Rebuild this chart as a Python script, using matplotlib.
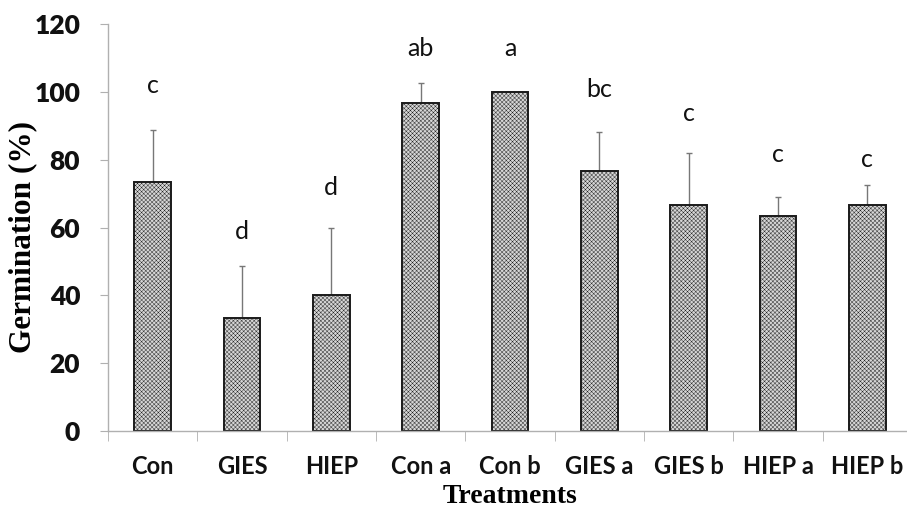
import matplotlib
matplotlib.use("Agg")
import matplotlib.pyplot as plt
import numpy as np

# germination per treatment (mean and upper SD)
treatments = ["Con", "GIES", "HIEP", "Con a", "Con b", "GIES a", "GIES b", "HIEP a", "HIEP b"]
germination = [73.3, 33.3, 40.0, 96.7, 100.0, 76.7, 66.7, 63.3, 66.7]
sd = [15.3, 15.3, 20.0, 5.8, 0.0, 11.5, 15.3, 5.8, 5.8]
letters = ["c", "d", "d", "ab", "a", "bc", "c", "c", "c"]
letter_y = [102, 58.7, 71.7, 112.7, 112.7, 100.6, 93.5, 81.4, 80.0]

plt.rcParams["hatch.linewidth"] = 0.3
plt.rcParams["hatch.color"] = "#a6a6a6"

fig = plt.figure(figsize=(9.07, 5.09), dpi=100)
ax = fig.add_axes([108 / 907, 78 / 509, 804 / 907, 407 / 509])

x = np.arange(len(treatments))
ax.bar(x, germination, width=0.41, color="#d6d6d6", edgecolor="#1a1a1a",
       linewidth=1.4, hatch="xxxxxxxx", zorder=2)
ax.errorbar(x, germination, yerr=[np.zeros(len(sd)), sd], fmt="none",
            ecolor="#777777", elinewidth=1.0, capsize=2.2, capthick=1.0, zorder=1)

for xi, lab, ly in zip(x, letters, letter_y):
    ax.text(xi, ly, lab, ha="center", va="center", fontsize=18,
            family="Lato", color="#111111")

ax.set_xlim(-0.5, len(treatments) - 0.5)
ax.set_ylim(0, 120)
ax.set_yticks(np.arange(0, 121, 20))

ax.set_xticks(x)
ax.set_xticklabels(treatments)
ax.set_xticks(np.arange(-0.5, len(treatments), 1), minor=True)
ax.tick_params(axis="x", which="major", length=0, pad=17)
ax.tick_params(axis="x", which="minor", length=7, color="#b0b0b0", direction="out")
ax.tick_params(axis="y", length=6, color="#b0b0b0", pad=14, direction="out")

for lbl in ax.get_yticklabels():
    lbl.set_family("Lato")
    lbl.set_fontweight("heavy")
    lbl.set_fontsize(19)
    lbl.set_color("#111111")
for lbl in ax.get_xticklabels():
    lbl.set_family("Lato")
    lbl.set_fontweight("bold")
    lbl.set_fontsize(17)
    lbl.set_color("#111111")

for side in ["top", "right"]:
    ax.spines[side].set_visible(False)
for side in ["left", "bottom"]:
    ax.spines[side].set_color("#b0b0b0")
    ax.spines[side].set_linewidth(1.0)

ax.set_ylabel("Germination (%)", family="Liberation Serif", fontweight="bold",
              fontsize=22.5)
ax.set_xlabel("Treatments", family="Liberation Serif", fontweight="bold",
              fontsize=20, va="baseline")
ax.xaxis.set_label_coords((510 - 108) / 804, -(503 - 431) / 407)
ax.yaxis.set_label_coords(-(108 - 37) / 804, (431 - 237) / 407)

fig.savefig("out.png", dpi=100)
